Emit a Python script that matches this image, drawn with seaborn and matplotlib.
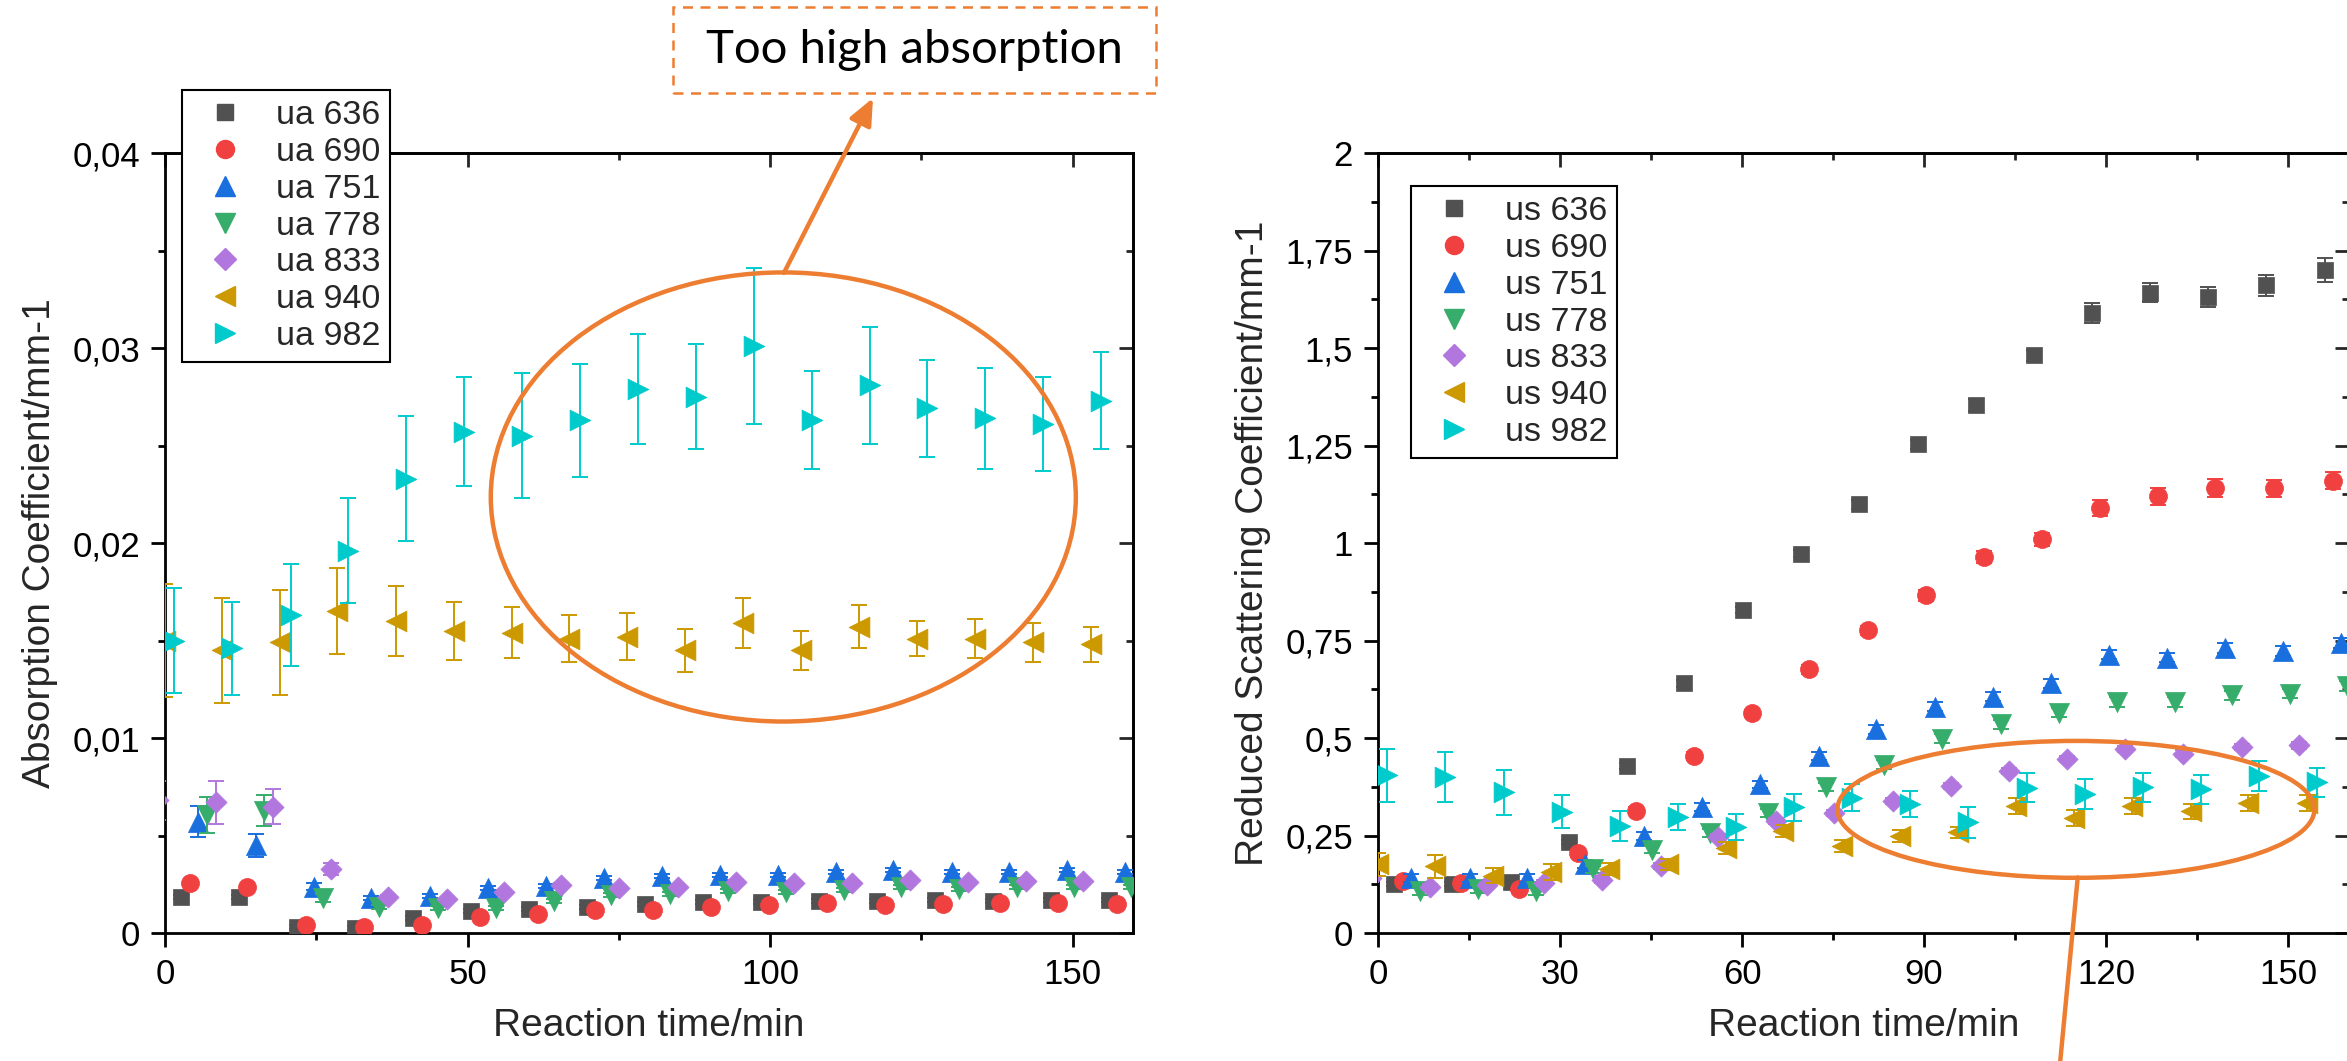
import numpy as np
import pandas as pd
import matplotlib
matplotlib.use("Agg")
import matplotlib.pyplot as plt
import seaborn as sns
from matplotlib.patches import Ellipse, Rectangle
from matplotlib.lines import Line2D
from matplotlib.ticker import MultipleLocator, FuncFormatter

# ---------------- data ----------------
wavelengths = ["636", "690", "751", "778", "833", "940", "982"]

# measurement times (min) per wavelength
t636 = [2.7, 12.2, 21.9, 31.4, 41.0, 50.5, 60.1, 69.7, 79.3, 88.9, 98.5, 108.1, 117.7, 127.2, 136.8, 146.4, 156.0]
t690 = [4.2, 13.6, 23.3, 32.9, 42.5, 52.0, 61.6, 71.1, 80.7, 90.3, 99.8, 109.4, 119.0, 128.6, 138.0, 147.6, 157.3]
t751 = [5.4, 15.1, 24.6, 34.1, 43.8, 53.4, 63.0, 72.6, 82.1, 91.7, 101.3, 110.9, 120.4, 130.0, 139.5, 149.1, 158.7]
t778 = [6.9, 16.4, 26.1, 35.4, 45.1, 54.7, 64.3, 73.8, 83.4, 93.0, 102.6, 112.2, 121.7, 131.3, 140.8, 150.3, 159.6]
t833 = [-1.1, 8.5, 17.9, 27.4, 36.9, 46.6, 56.1, 65.5, 75.1, 84.8, 94.4, 104.0, 113.6, 123.1, 132.7, 142.3, 151.8]
t940 = [0.0, 9.4, 19.0, 28.5, 38.1, 47.8, 57.3, 66.8, 76.4, 86.0, 95.5, 105.1, 114.7, 124.3, 133.9, 143.4, 153.0]
t982 = [1.5, 11.0, 20.8, 30.3, 39.9, 49.5, 59.0, 68.6, 78.1, 87.7, 97.3, 106.9, 116.5, 126.0, 135.6, 145.2, 154.7]

# absorption coefficient (mm-1)
ua636 = [0.00183, 0.00183, 0.00032, 0.00027, 0.00077, 0.00113, 0.00121, 0.00134, 0.00149, 0.00157, 0.00157, 0.00166, 0.00166, 0.0017, 0.00166, 0.0017, 0.0017]
ua690 = [0.00255, 0.00238, 0.00041, 0.00032, 0.00041, 0.00084, 0.00098, 0.00118, 0.00118, 0.00135, 0.00144, 0.00152, 0.00144, 0.00149, 0.00152, 0.00152, 0.00149]
ua751 = [0.0057, 0.0045, 0.00238, 0.00178, 0.0019, 0.00229, 0.00243, 0.0028, 0.00292, 0.00297, 0.00297, 0.00314, 0.00323, 0.00314, 0.00314, 0.00323, 0.00314]
ua778 = [0.00605, 0.00627, 0.00178, 0.00132, 0.00127, 0.0013, 0.00165, 0.00195, 0.002, 0.00217, 0.0021, 0.0022, 0.00234, 0.00226, 0.00234, 0.00234, 0.00238]
ua833 = [0.0068, 0.0067, 0.00648, 0.0033, 0.00186, 0.00172, 0.00212, 0.00248, 0.00232, 0.00237, 0.0026, 0.00255, 0.00255, 0.00272, 0.00263, 0.00266, 0.00268]
ua940 = [0.0150, 0.0145, 0.0149, 0.0165, 0.0160, 0.0155, 0.0154, 0.0151, 0.0152, 0.0145, 0.0159, 0.0145, 0.0157, 0.0151, 0.0151, 0.0149, 0.0148]
ua982 = [0.0150, 0.0146, 0.0163, 0.0196, 0.0233, 0.0257, 0.0255, 0.0263, 0.0279, 0.0275, 0.0301, 0.0263, 0.0281, 0.0269, 0.0264, 0.0261, 0.0273]

ua636_err = [0.0001] * 17
ua690_err = [0.0001] * 17
ua751_err = [0.0008, 0.0006, 0.0002, 0.0001, 0.0001, 0.0001, 0.0001, 0.0001, 0.0001, 0.0001, 0.0001, 0.0001, 0.0001, 0.0001, 0.0001, 0.0001, 0.0001]
ua778_err = [0.0009, 0.0008, 0.0002, 0.0001, 0.0001, 0.0001, 0.0001, 0.0001, 0.0001, 0.0001, 0.0001, 0.0001, 0.0001, 0.0001, 0.0001, 0.0001, 0.0001]
ua833_err = [0.0010, 0.0011, 0.0009, 0.0003, 0.0001, 0.0001, 0.0001, 0.0001, 0.0001, 0.0001, 0.0001, 0.0001, 0.0001, 0.0001, 0.0001, 0.0001, 0.0001]
ua940_err = [0.0029, 0.0027, 0.0027, 0.0022, 0.0018, 0.0015, 0.0013, 0.0012, 0.0012, 0.0011, 0.0013, 0.0010, 0.0011, 0.0009, 0.0010, 0.0010, 0.0009]
ua982_err = [0.0027, 0.0024, 0.0026, 0.0027, 0.0032, 0.0028, 0.0032, 0.0029, 0.0028, 0.0027, 0.0040, 0.0025, 0.0030, 0.0025, 0.0026, 0.0024, 0.0025]

# reduced scattering coefficient (mm-1)
us636 = [0.126, 0.126, 0.130, 0.233, 0.428, 0.640, 0.829, 0.973, 1.099, 1.253, 1.353, 1.481, 1.590, 1.642, 1.631, 1.661, 1.700]
us690 = [0.133, 0.129, 0.112, 0.204, 0.314, 0.453, 0.563, 0.676, 0.776, 0.866, 0.965, 1.009, 1.090, 1.120, 1.141, 1.140, 1.160]
us751 = [0.141, 0.141, 0.141, 0.176, 0.248, 0.324, 0.381, 0.453, 0.522, 0.580, 0.606, 0.640, 0.714, 0.706, 0.731, 0.723, 0.744]
us778 = [0.107, 0.112, 0.107, 0.163, 0.214, 0.257, 0.308, 0.375, 0.432, 0.498, 0.535, 0.565, 0.592, 0.592, 0.609, 0.614, 0.633]
us833 = [0.140, 0.118, 0.124, 0.129, 0.137, 0.171, 0.247, 0.287, 0.308, 0.338, 0.376, 0.415, 0.447, 0.472, 0.460, 0.477, 0.481]
us940 = [0.176, 0.171, 0.147, 0.156, 0.165, 0.176, 0.218, 0.261, 0.223, 0.248, 0.258, 0.325, 0.295, 0.325, 0.312, 0.334, 0.334]
us982 = [0.404, 0.400, 0.361, 0.311, 0.274, 0.297, 0.271, 0.322, 0.347, 0.331, 0.284, 0.372, 0.357, 0.374, 0.368, 0.402, 0.387]

us636_err = [0.005, 0.005, 0.006, 0.006, 0.008, 0.008, 0.008, 0.010, 0.012, 0.012, 0.015, 0.015, 0.025, 0.025, 0.026, 0.027, 0.030]
us690_err = [0.006, 0.006, 0.006, 0.008, 0.008, 0.010, 0.010, 0.012, 0.012, 0.014, 0.015, 0.016, 0.020, 0.022, 0.022, 0.022, 0.022]
us751_err = [0.010, 0.010, 0.010, 0.010, 0.010, 0.010, 0.010, 0.010, 0.012, 0.012, 0.012, 0.012, 0.012, 0.012, 0.012, 0.012, 0.012]
us778_err = [0.010, 0.010, 0.010, 0.010, 0.010, 0.010, 0.010, 0.010, 0.012, 0.012, 0.012, 0.012, 0.012, 0.012, 0.012, 0.012, 0.012]
us833_err = [0.008] * 17
us940_err = [0.030, 0.030, 0.020, 0.020, 0.015, 0.015, 0.015, 0.015, 0.015, 0.015, 0.015, 0.020, 0.020, 0.020, 0.020, 0.020, 0.020]
us982_err = [0.068, 0.064, 0.058, 0.042, 0.038, 0.033, 0.033, 0.035, 0.035, 0.033, 0.040, 0.037, 0.038, 0.037, 0.037, 0.038, 0.037]

times = [t636, t690, t751, t778, t833, t940, t982]
ua_vals = [ua636, ua690, ua751, ua778, ua833, ua940, ua982]
ua_errs = [ua636_err, ua690_err, ua751_err, ua778_err, ua833_err, ua940_err, ua982_err]
us_vals = [us636, us690, us751, us778, us833, us940, us982]
us_errs = [us636_err, us690_err, us751_err, us778_err, us833_err, us940_err, us982_err]

# ---------------- style ----------------
colors = ["#515151", "#F14040", "#1A6FDF", "#37AD6B", "#B177DE", "#CC9900", "#00CBCC"]
markers = ["s", "o", "^", "v", "D", "<", ">"]
msizes = [12.0, 13.0, 14.5, 14.5, 10.8, 15.0, 15.0]
ORANGE = "#ED7D31"

sns.set_theme(style="white")
plt.rcParams["font.family"] = ["Liberation Sans", "DejaVu Sans"]

W, H = 2347, 1061
fig = plt.figure(figsize=(W / 100, H / 100), dpi=100)
fig.patch.set_facecolor("white")


def px_box(x0, x1, ytop, ybot):
    return [x0 / W, 1 - ybot / H, (x1 - x0) / W, (ybot - ytop) / H]


ax1 = fig.add_axes(px_box(165, 1133, 153, 933))
ax2 = fig.add_axes(px_box(1378, 2349, 153, 933))

comma = FuncFormatter(lambda v, p: ("%g" % round(v, 6)).replace(".", ","))


def draw_panel(ax, vals, errs, prefix):
    for i, wl in enumerate(wavelengths):
        df = pd.DataFrame({"time": times[i], "value": vals[i], "err": errs[i]})
        ax.errorbar(df["time"], df["value"], yerr=df["err"], fmt="none",
                    ecolor=colors[i], elinewidth=1.4, capsize=6, capthick=1.4,
                    zorder=3 + 2 * i)
        sns.scatterplot(data=df, x="time", y="value", ax=ax, marker=markers[i],
                        s=msizes[i] ** 2, color=colors[i], edgecolor=colors[i],
                        linewidth=0.5, zorder=4 + 2 * i, legend=False)
    handles = [Line2D([], [], ls="none", marker=markers[i], ms=msizes[i],
                      color=colors[i], mec=colors[i]) for i in range(7)]
    labels = [f"{prefix} {wl}" for wl in wavelengths]
    return handles, labels


def style_axes(ax, xmaj, xmin, ymaj, ymin, ylim, ylabel):
    ax.set_xlim(0, 160)
    ax.set_ylim(*ylim)
    ax.xaxis.set_major_locator(MultipleLocator(xmaj))
    ax.xaxis.set_minor_locator(MultipleLocator(xmin))
    ax.yaxis.set_major_locator(MultipleLocator(ymaj))
    ax.yaxis.set_minor_locator(MultipleLocator(ymin))
    ax.yaxis.set_major_formatter(comma)
    ax.xaxis.set_major_formatter(comma)
    for s in ax.spines.values():
        s.set_visible(True)
        s.set_color("black")
        s.set_linewidth(2.0)
    ax.tick_params(which="both", direction="out", bottom=True, left=True,
                   top=False, right=False, width=2.0, colors="black",
                   labelsize=25, pad=8)
    ax.tick_params(which="major", length=10)
    ax.tick_params(which="minor", length=5)
    ax.set_xlabel("Reaction time/min", fontsize=28, labelpad=12)
    ax.set_ylabel(ylabel, fontsize=28, labelpad=10)
    # mirrored inward ticks on top / right
    top = ax.secondary_xaxis("top")
    top.xaxis.set_major_locator(MultipleLocator(xmaj))
    top.xaxis.set_minor_locator(MultipleLocator(xmin))
    top.tick_params(which="both", direction="in", width=2.0, labeltop=False)
    top.tick_params(which="major", length=10)
    top.tick_params(which="minor", length=5)
    top.spines["top"].set_linewidth(2.0)
    right = ax.secondary_yaxis("right")
    right.yaxis.set_major_locator(MultipleLocator(ymaj))
    right.yaxis.set_minor_locator(MultipleLocator(ymin))
    right.tick_params(which="both", direction="in", width=2.0, labelright=False)
    right.tick_params(which="major", length=10)
    right.tick_params(which="minor", length=5)
    right.spines["right"].set_linewidth(2.0)
    ax.set_facecolor("white")
    ax.grid(False)


h1, l1 = draw_panel(ax1, ua_vals, ua_errs, "ua")
h2, l2 = draw_panel(ax2, us_vals, us_errs, "us")

style_axes(ax1, 50, 25, 0.01, 0.005, (0, 0.04), "Absorption Coefficient/mm-1")
style_axes(ax2, 30, 15, 0.25, 0.125, (0, 2), "Reduced Scattering Coefficient/mm-1")

leg_kw = dict(loc="upper left", bbox_transform=fig.transFigure, frameon=True,
              fancybox=False, edgecolor="black", framealpha=1, fontsize=24.5,
              borderpad=0.3, labelspacing=0.17, handlelength=1.9,
              handletextpad=0.55, borderaxespad=0)
leg1 = ax1.legend(h1, l1, bbox_to_anchor=(182 / W, 1 - 90 / H), **leg_kw)
leg2 = ax2.legend(h2, l2, bbox_to_anchor=(1411 / W, 1 - 186 / H), **leg_kw)
for lg in (leg1, leg2):
    lg.get_frame().set_linewidth(1.5)
    lg.set_zorder(30)

# ---------------- annotations ----------------
ax1.add_patch(Ellipse((102.2, 0.02236), width=96.7, height=0.02303, fill=False,
                      edgecolor=ORANGE, lw=3.2, zorder=25))
ax1.annotate("", xy=(873 / W, 1 - 98 / H), xycoords="figure fraction",
             xytext=(102.3, 0.03385), textcoords="data",
             arrowprops=dict(arrowstyle="-|>,head_length=0.8,head_width=0.35",
                             color=ORANGE, lw=3.2, mutation_scale=20,
                             shrinkA=0, shrinkB=0), zorder=25)
fig.patches.append(Rectangle((673 / W, 1 - 93 / H), (1156 - 673) / W, (93 - 7) / H,
                             transform=fig.transFigure, fill=False,
                             edgecolor=ORANGE, lw=1.8, ls=(0, (4, 3))))
fig.text(914 / W, 1 - 50 / H, "Too high absorption", ha="center", va="center",
         fontsize=34, family=["Lato", "DejaVu Sans"], color="black")

ax2.add_patch(Ellipse((115.0, 0.317), width=78.6, height=0.351, fill=False,
                      edgecolor=ORANGE, lw=3.2, zorder=25))
ax2.add_line(Line2D([115.3, 111.8], [0.1425, -0.43], color=ORANGE, lw=3.2,
                    clip_on=False, zorder=25))

fig.savefig("out.png", dpi=100, facecolor="white")
